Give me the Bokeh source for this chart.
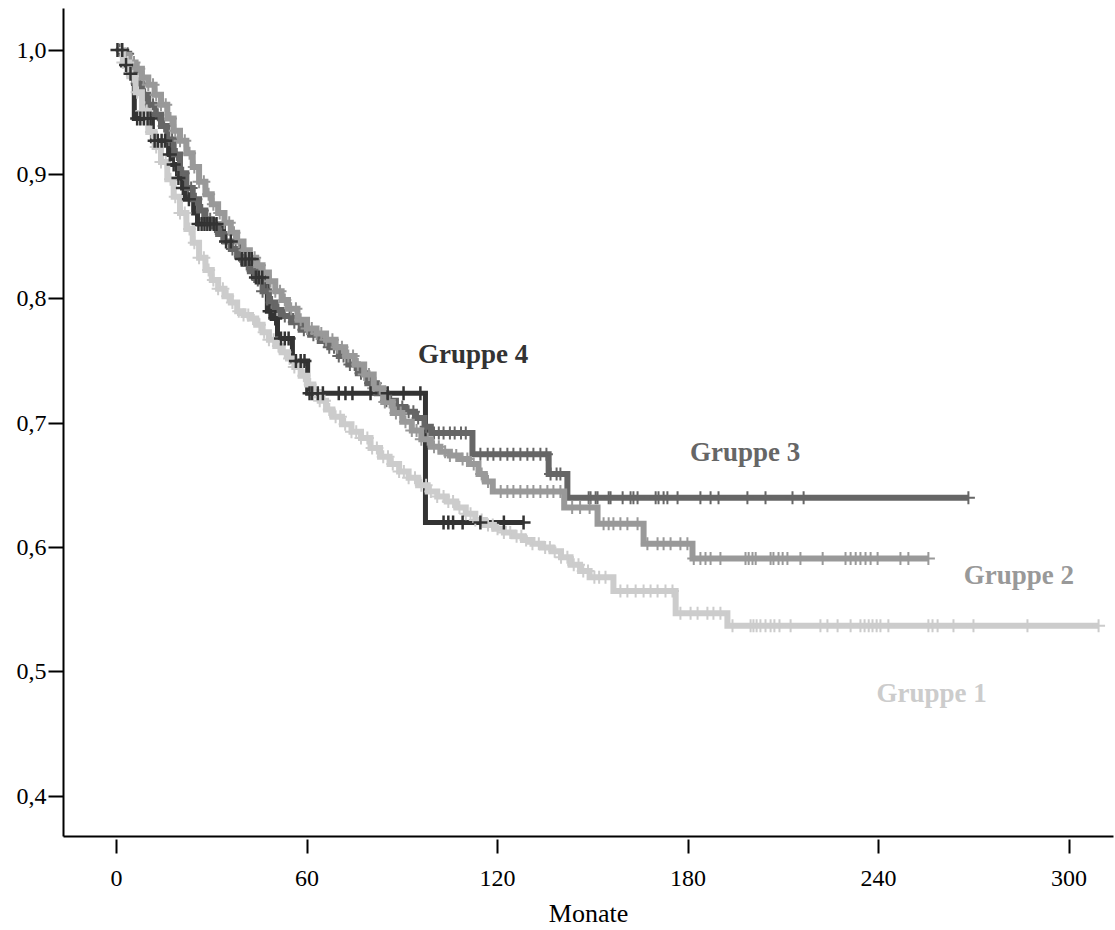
import numpy as np
from bokeh.plotting import figure
from bokeh.models import FixedTicker, Range1d, ColumnDataSource, CustomJSTickFormatter
from bokeh.core.properties import value
from bokeh.embed import file_html
from bokeh.resources import INLINE

FONT = "Liberation Serif"

# Kaplan-Meier estimates: event times (months) and survival after each event
g1_time = [0, 2, 4, 6, 8, 10, 12, 14, 16, 18, 20, 22, 24, 26, 28, 30, 32, 34, 36, 38, 40,
           42, 44, 46, 48, 50, 52, 54, 56, 58, 60, 62, 64, 66, 68, 71, 74, 77, 80, 83, 86,
           89, 92, 95, 98, 101, 104, 107, 110, 113, 116, 119, 122, 125, 128, 131, 134, 137,
           140, 143, 146, 149, 156.5, 176.1, 192.4]
g1_surv = [1.0, 0.99, 0.979, 0.966, 0.951, 0.934, 0.922, 0.910, 0.896, 0.882, 0.869, 0.856,
           0.845, 0.833, 0.823, 0.815, 0.808, 0.802, 0.797, 0.790, 0.787, 0.784, 0.779, 0.773,
           0.767, 0.762, 0.757, 0.752, 0.745, 0.738, 0.731, 0.725, 0.718, 0.711, 0.705, 0.699,
           0.693, 0.688, 0.680, 0.673, 0.667, 0.661, 0.656, 0.650, 0.645, 0.641, 0.637, 0.632,
           0.627, 0.622, 0.618, 0.615, 0.612, 0.609, 0.606, 0.603, 0.600, 0.597, 0.592, 0.586,
           0.581, 0.576, 0.565, 0.547, 0.537]
g1_end = 309.3
g1_censored = [2.0, 3.5, 5.0, 6.5, 8.0, 9.5, 11.0, 12.5, 14.0, 15.5, 17.0, 18.5, 20.0, 21.5,
               23.0, 24.5, 26.0, 27.5, 29.0, 30.5, 32.0, 33.5, 35.0, 36.5, 38.5, 40.0, 41.5,
               43.0, 45.0, 46.5, 48.0, 49.5, 51.0, 53.0, 54.5, 56.0, 57.5, 59.0, 61.0, 62.5,
               64.0, 65.5, 67.0, 69.0, 70.5, 72.0, 74.0, 75.5, 77.0, 79.0, 80.5, 82.0, 84.0,
               85.5, 87.0, 89.0, 90.5, 92.0, 94.0, 96.0, 97.5, 99.0, 101.0, 103.0, 104.5, 106.0,
               108.0, 110.0, 111.5, 113.0, 115.0, 117.0, 118.5, 120.0, 122.0, 124.0, 126.0,
               127.5, 129.0, 131.0, 133.0, 135.0, 136.5, 138.0, 140.0, 142.0, 144.0, 145.5,
               147.0, 148.5, 150.5, 152.0, 154.0,
               158.7, 160.9, 163.5, 166.0, 168.2, 170.4, 172.9, 175.1,
               177.6, 180.8, 183.0, 186.1, 188.0, 190.2,
               194.0, 199.7, 200.6, 201.6, 202.8, 204.4, 206.0, 207.2, 208.8, 212.3, 221.7,
               223.9, 227.1, 231.2, 234.3, 235.6, 236.9, 238.1, 239.4, 240.6, 243.1, 255.7,
               257.0, 258.6, 263.6, 269.9, 286.9, 309.3]

g2_time = [0, 2, 4, 6, 8, 10, 12, 14, 16, 18, 20, 22, 24, 26, 28, 30, 32, 34, 36, 38, 40, 42,
           44, 46, 48, 50, 52, 54, 57, 60, 63, 66, 69, 72, 75, 78, 81, 84, 87, 90, 93, 96, 99,
           102, 105, 108, 111, 114, 116, 118.5, 141, 151.5, 166, 181.4]
g2_surv = [1.0, 0.996, 0.99, 0.985, 0.978, 0.972, 0.964, 0.956, 0.945, 0.935, 0.927, 0.917,
           0.906, 0.894, 0.884, 0.876, 0.869, 0.861, 0.853, 0.846, 0.839, 0.833, 0.827, 0.821,
           0.814, 0.806, 0.799, 0.792, 0.783, 0.776, 0.772, 0.767, 0.761, 0.754, 0.747, 0.739,
           0.728, 0.717, 0.708, 0.701, 0.694, 0.687, 0.681, 0.677, 0.674, 0.671, 0.667, 0.659,
           0.653, 0.645, 0.632, 0.619, 0.603, 0.591]
g2_end = 255.7
g2_censored = [1.5, 3.0, 4.5, 5.5, 7.0, 8.5, 10.0, 11.5, 12.5, 14.0, 15.5, 17.0, 18.5, 20.0,
               21.5, 23.0, 24.5, 26.0, 27.5, 29.0, 30.5, 32.5, 34.0, 35.5, 37.0, 38.5, 40.5,
               42.0, 43.5, 45.0, 46.5, 48.5, 50.0, 51.5, 53.0, 55.0, 56.5, 58.0, 60.0, 61.5,
               63.0, 64.5, 66.0, 68.0, 69.5, 71.0, 73.0, 74.5, 76.0, 78.0, 79.5, 81.0, 83.0,
               84.5, 86.0, 88.0, 89.5, 91.0, 93.0, 94.5, 96.0, 98.0, 100.0, 101.5, 103.5, 105.0,
               107.0, 109.0, 110.5, 112.5, 115.0, 117.0,
               121.0, 123.1, 125.0, 127.2, 129.4, 131.3, 133.5, 135.7, 137.6, 139.8,
               143.5, 146.0, 149.0,
               153.4, 155.0, 156.5, 158.7, 160.9, 164.1,
               167.2, 170.4, 172.3, 174.5, 177.6, 179.8,
               181.8, 183.9, 185.5, 187.1, 190.2, 198.1, 199.1, 200.3, 201.3, 206.0, 206.9,
               208.5, 209.8, 211.3, 215.4, 222.4, 229.6, 231.2, 232.8, 234.3, 235.9, 237.5,
               239.7, 246.9, 249.4, 255.7]

g3_time = [0, 2, 4, 6, 8, 10, 12, 14, 16, 18, 20, 22, 24, 26, 28, 30, 32, 34, 36, 38, 40, 42,
           44, 46, 48, 50, 52, 55, 58, 61, 64, 67, 70, 73, 76, 79, 82, 85, 88, 91, 94, 97, 99,
           112.1, 136.1, 142]
g3_surv = [1.0, 0.997, 0.985, 0.973, 0.964, 0.956, 0.948, 0.939, 0.928, 0.916, 0.901, 0.889,
           0.880, 0.871, 0.864, 0.858, 0.852, 0.846, 0.840, 0.834, 0.828, 0.822, 0.815, 0.806,
           0.797, 0.791, 0.786, 0.781, 0.775, 0.771, 0.766, 0.761, 0.754, 0.747, 0.740, 0.732,
           0.724, 0.718, 0.713, 0.709, 0.704, 0.697, 0.692, 0.675, 0.659, 0.640]
g3_end = 268.3
g3_censored = [1.0, 2.5, 3.5, 5.0, 6.5, 7.5, 9.0, 10.5, 11.5, 13.0, 15.0, 16.5, 17.5, 19.0,
               21.0, 22.5, 23.5, 25.0, 27.0, 28.5, 29.5, 31.0, 33.0, 34.5, 36.5, 37.5, 39.0,
               41.0, 43.0, 44.5, 46.0, 47.5, 49.0, 51.0, 53.0, 54.5, 56.0, 57.5, 59.0, 60.5,
               62.0, 63.5, 65.5, 67.0, 68.5, 70.0, 71.5, 73.5, 75.0, 77.0, 78.5, 80.0, 81.5,
               83.5, 85.0, 86.5, 88.5, 90.0, 92.0, 93.5, 95.0, 97.5,
               100.0, 101.5, 103.0, 105.0, 106.5, 108.5, 110.0,
               114.6, 116.9, 118.7, 120.9, 123.1, 125.0, 127.2, 129.4, 131.3, 133.5, 135.4,
               136.7, 138.6, 139.8,
               148.7, 149.3, 150.9, 151.5, 155.0, 155.6, 159.4, 161.9, 162.8, 164.1, 169.8,
               170.7, 172.3, 173.5, 176.7, 183.9, 187.1, 189.6, 198.7, 204.4, 212.9, 216.4,
               268.3]

g4_time = [0, 1.9, 3.8, 5.4, 5.6, 11.3, 16.4, 17.6, 19.2, 20.8, 21.7, 24.3, 25.5, 33.7, 39.1,
           43.1, 47.5, 49.0, 50.7, 55.4, 60.2, 97.3]
g4_surv = [1.0, 0.988, 0.981, 0.973, 0.945, 0.927, 0.916, 0.908, 0.897, 0.889, 0.880, 0.869,
           0.860, 0.846, 0.832, 0.817, 0.790, 0.784, 0.768, 0.750, 0.724, 0.620]
g4_end = 128.2
g4_censored = [0.3, 1.8, 3.0, 4.4, 6.5, 7.5, 8.6, 9.8, 10.7, 12.0, 13.0, 14.2, 15.3, 16.8,
               18.0, 19.5, 20.9, 22.8, 25.8, 26.8, 27.7, 28.6, 29.5, 30.6, 31.5, 34.5, 36.0,
               39.5, 40.6, 41.8, 42.6, 43.9, 44.8, 45.9, 48.2, 50.0, 51.8, 53.0, 54.2, 56.5,
               58.0, 59.2, 60.8, 61.6, 63.4, 65.0, 70.0, 72.1, 74.3, 80.0, 85.4, 90.4, 95.7,
               103.0, 104.5, 106.0, 109.0, 114.6, 122.0, 128.2]

group_names = ["Gruppe 1", "Gruppe 2", "Gruppe 3", "Gruppe 4"]
group_colors = ["#cccccc", "#999999", "#666666", "#333333"]
label_x = [256.7, 284.2, 198.0, 112.3]
label_y = [0.4829, 0.5778, 0.6770, 0.7556]

x_ticks = [0, 60, 120, 180, 240, 300]
y_ticks = [0.4, 0.5, 0.6, 0.7, 0.8, 0.9, 1.0]

p = figure(width=1115, height=930, output_backend="svg", toolbar_location=None,
           x_range=Range1d(-16.7, 314.0), y_range=Range1d(0.3675, 1.0334),
           min_border_left=63, min_border_right=2, min_border_top=8, min_border_bottom=94)
p.outline_line_color = None
p.grid.visible = False
p.background_fill_color = "white"
p.border_fill_color = "white"


def step_arrays(times, surv, end):
    xs = list(times) + [end]
    ys = list(surv) + [surv[-1]]
    return xs, ys


def censor_points(times, surv, cens):
    t = np.asarray(times, dtype=float)
    s = np.asarray(surv, dtype=float)
    c = np.asarray(cens, dtype=float)
    idx = np.searchsorted(t, c, side="right") - 1
    return c, s[idx]


groups = [
    (g1_time, g1_surv, g1_end, g1_censored),
    (g2_time, g2_surv, g2_end, g2_censored),
    (g3_time, g3_surv, g3_end, g3_censored),
    (g4_time, g4_surv, g4_end, g4_censored),
]

# survival curves, darkest group underneath
for i in [3, 2, 1, 0]:
    times, surv, end, cens = groups[i]
    xs, ys = step_arrays(times, surv, end)
    p.step(xs, ys, mode="after", line_width=5 if i == 3 else 6,
           line_color=group_colors[i], line_join="miter")
    if i != 3:
        cx, cy = censor_points(times, surv, cens)
        p.scatter(cx, cy, marker="cross", size=13, line_width=2,
                  line_color=group_colors[i])

# censoring marks of group 4 on top
cx, cy = censor_points(g4_time, g4_surv, g4_censored)
p.scatter(cx, cy, marker="cross", size=14, line_width=2.5, line_color=group_colors[3])

labels = ColumnDataSource(dict(x=label_x, y=label_y, text=group_names, color=group_colors))
p.text(x="x", y="y", text="text", source=labels, text_color="color",
       text_font=value(FONT), text_font_size="27px", text_font_style="bold",
       text_align="center", text_baseline="alphabetic")

for ax in (p.xaxis[0], p.yaxis[0]):
    ax.axis_line_width = 2
    ax.axis_line_color = "black"
    ax.major_tick_line_width = 2
    ax.major_tick_line_color = "black"
    ax.minor_tick_line_color = None
    ax.major_label_text_font = FONT
    ax.major_label_text_font_size = "24px"
    ax.major_label_text_color = "black"

p.xaxis.ticker = FixedTicker(ticks=x_ticks)
p.xaxis.major_tick_in = -3
p.xaxis.major_tick_out = 17
p.xaxis.major_label_standoff = 17
p.xaxis.axis_label = "Monate"
p.xaxis.axis_label_text_font = FONT
p.xaxis.axis_label_text_font_size = "26px"
p.xaxis.axis_label_text_font_style = "normal"
p.xaxis.axis_label_text_color = "black"
p.xaxis.axis_label_standoff = 10

p.yaxis.ticker = FixedTicker(ticks=y_ticks)
p.yaxis.formatter = CustomJSTickFormatter(code="return tick.toFixed(1).replace('.', ',');")
p.yaxis.major_tick_in = 0
p.yaxis.major_tick_out = 15
p.yaxis.major_label_standoff = 2

open("out.html", "w").write(file_html(p, INLINE))
